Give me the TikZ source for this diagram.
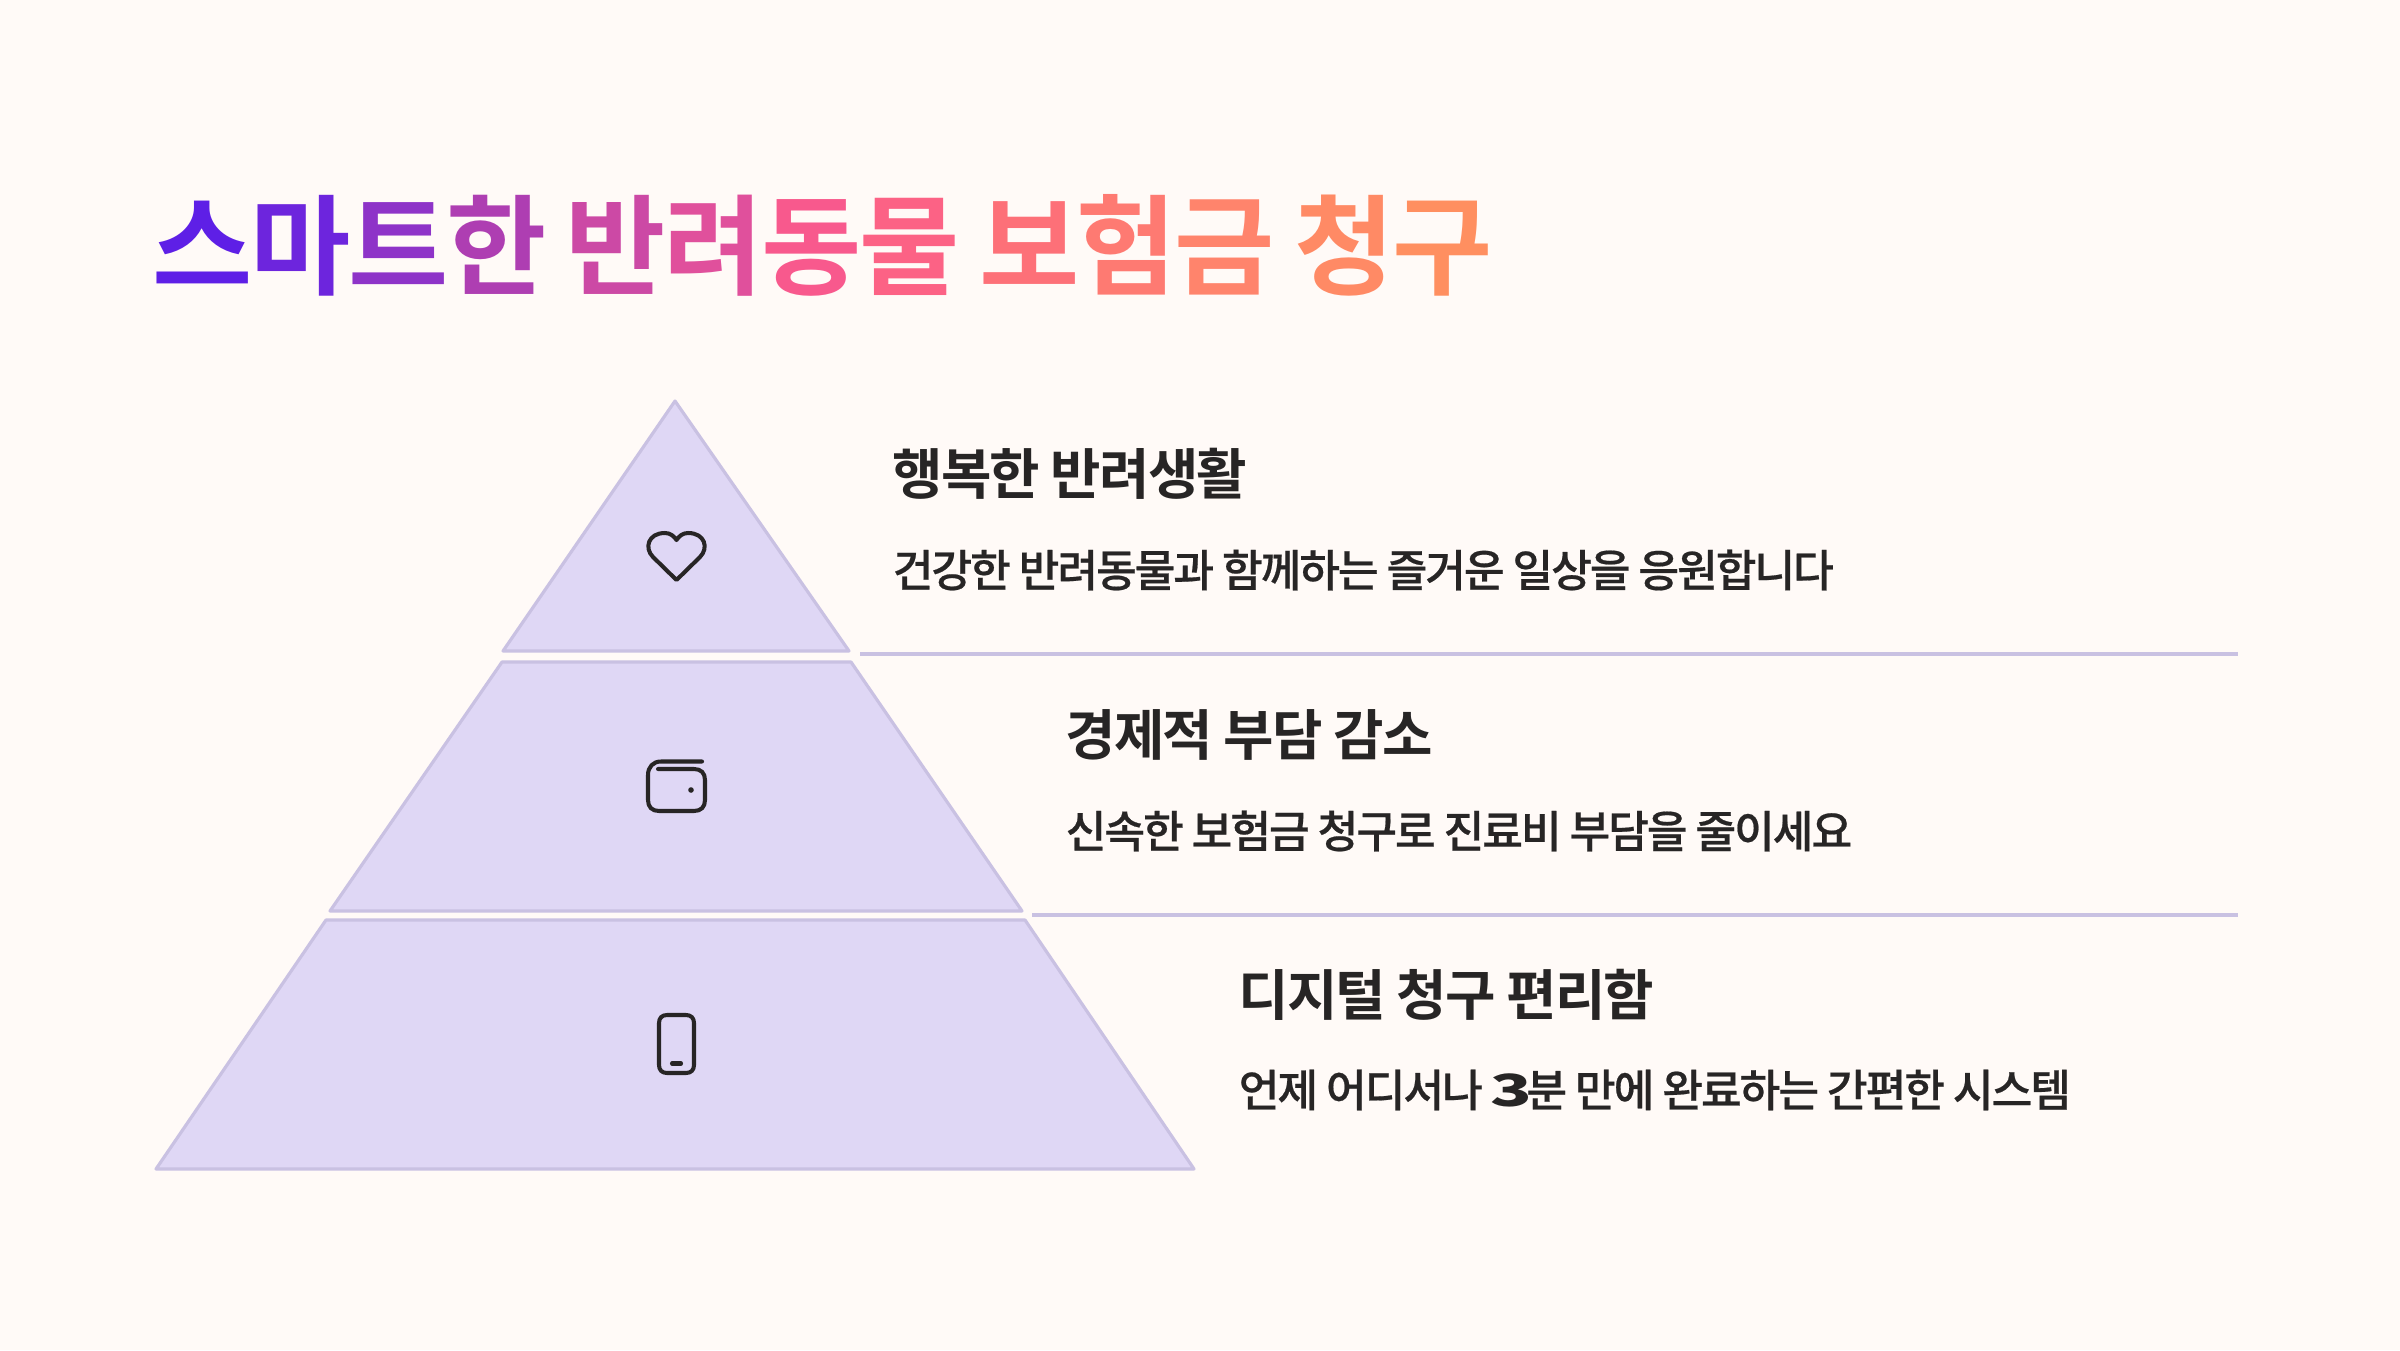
\documentclass[tikz,border=0pt]{standalone}
\usepackage{fontspec}
\setmainfont{Noto Sans CJK KR}[BoldFont={* Bold}]
\newfontfamily\krtitle{Noto Sans CJK KR Bold}[LetterSpace=-2.4]
\newfontfamily\krhead{Noto Sans CJK KR Bold}[LetterSpace=-3.35]
\newfontfamily\krbody{Noto Sans CJK KR Medium}[LetterSpace=-4.7,FakeBold=0.45]
\newfontfamily\krdigit{Noto Sans CJK KR Black}
\usetikzlibrary{calc}
\definecolor{paper}{HTML}{FFFAF7}
\definecolor{layerfill}{HTML}{DFD7F5}
\definecolor{layerline}{HTML}{C9C1E2}
\definecolor{ink}{HTML}{272525}
\tikzset{
  layer/.style={draw=layerline, fill=layerfill, line width=0.9pt, line join=round},
  rule/.style={draw=layerline, line width=0.9pt},
  icon/.style={draw=ink, line width=1.15pt, line cap=round, line join=round},
  titletext/.style={anchor=west, inner sep=0pt, font=\fontsize{31}{36}\krtitle},
  headtext/.style={anchor=west, inner sep=0pt, text=ink, font=\fontsize{15.6}{19}\krhead},
  bodytext/.style={anchor=west, inner sep=0pt, text=ink, font=\fontsize{12.6}{16}\krbody},
}
\newcommand{\tc}[2]{\textcolor[HTML]{#1}{#2}\kern-0.7pt\relax}
\begin{document}
\begin{tikzpicture}
\fill[paper] (0,0) rectangle (24,13.5);
\useasboundingbox (0,0) rectangle (24,13.5);
% title
\node[titletext] (title) at (1.52,11.05) {\tc{5E1FE6}{스}\tc{6D25DD}{마}\tc{8E33C8}{트}\tc{AE3EB2}{한} \tc{CC49A5}{반}\tc{E0509C}{려}\tc{F8598D}{동}\tc{FC6285}{물} \tc{FD7078}{보}\tc{FE7A72}{험}\tc{FF846C}{금} \tc{FF8A65}{청}\tc{FF8F60}{구}};
% pyramid
\draw[layer] (6.75,9.49) -- (8.49,6.99) -- (5.03,6.99) -- cycle;
\draw[layer] (5.02,6.88) -- (8.51,6.88) -- (10.22,4.39) -- (3.30,4.39) -- cycle;
\draw[layer] (3.26,4.30) -- (10.25,4.30) -- (11.94,1.81) -- (1.56,1.81) -- cycle;
% separators
\coordinate (ruleAl) at (8.60,6.96);
\coordinate (ruleAr) at (22.38,6.96);
\coordinate (ruleBl) at (10.32,4.35);
\coordinate (ruleBr) at (22.38,4.35);
\draw[rule] (ruleAl) -- (ruleAr);
\draw[rule] (ruleBl) -- (ruleBr);
% heart
\draw[icon] (6.765,7.70) -- (6.53,7.93) .. controls (6.44,8.02) and (6.48,8.17) .. (6.65,8.17) .. controls (6.70,8.17) and (6.74,8.14) .. (6.765,8.10) .. controls (6.79,8.14) and (6.83,8.17) .. (6.88,8.17) .. controls (7.05,8.17) and (7.09,8.02) .. (7.00,7.93) -- cycle;
% wallet
\draw[icon] (7.02,5.885) -- (6.61,5.885) .. controls (6.53,5.885) and (6.48,5.83) .. (6.48,5.75) -- (6.48,5.50) .. controls (6.48,5.43) and (6.52,5.39) .. (6.59,5.39) -- (6.94,5.39) .. controls (7.01,5.39) and (7.05,5.43) .. (7.05,5.50) -- (7.05,5.70) .. controls (7.05,5.77) and (7.01,5.81) .. (6.94,5.81) -- (6.58,5.81);
\fill[ink] (6.91,5.60) circle (0.028);
% phone
\draw[icon] (6.67,3.35) -- (6.86,3.35) .. controls (6.91,3.35) and (6.94,3.32) .. (6.94,3.27) -- (6.94,2.85) .. controls (6.94,2.80) and (6.91,2.77) .. (6.86,2.77) -- (6.67,2.77) .. controls (6.62,2.77) and (6.59,2.80) .. (6.59,2.85) -- (6.59,3.27) .. controls (6.59,3.32) and (6.62,3.35) .. (6.67,3.35) -- cycle;
\draw[icon] (6.72,2.865) -- (6.81,2.865);
% texts
\node[headtext] (headA) at (8.92,8.76) {행복한 반려생활};
\node[bodytext] (bodyA) at (8.92,7.80) {건강한 반려동물과 함께하는 즐거운 일상을 응원합니다};
\node[headtext] (headB) at (10.65,6.15) {경제적 부담 감소};
\node[bodytext] (bodyB) at (10.65,5.19) {신속한 보험금 청구로 진료비 부담을 줄이세요};
\node[headtext] (headC) at (12.38,3.55) {디지털 청구 편리함};
\node[bodytext] (bodyC) at (12.38,2.60) {언제 어디서나 \scalebox{1.55}[1]{\krdigit 3}\kern-1.7pt\relax 분 만에 완료하는 간편한 시스템};
\end{tikzpicture}
\end{document}
